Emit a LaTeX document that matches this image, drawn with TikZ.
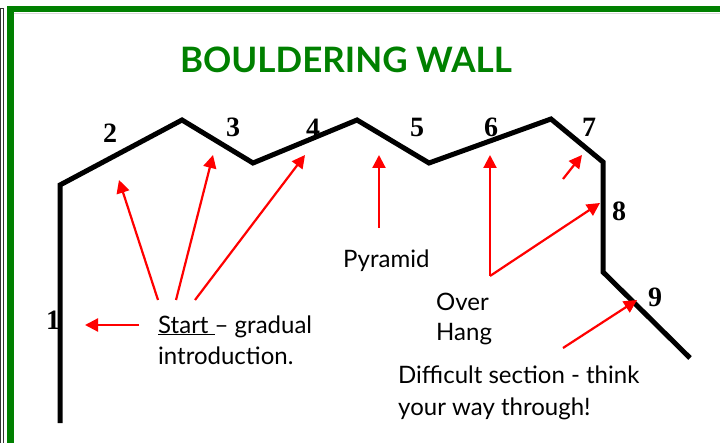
\documentclass[tikz,border=0pt]{standalone}
\usepackage{fontspec}
\setmainfont{Lato}
\newfontfamily\numfont{Liberation Serif}
\usetikzlibrary{arrows.meta}
\definecolor{frameGreen}{RGB}{0,128,0}
\definecolor{arrowRed}{RGB}{255,0,0}
\begin{document}
\begin{tikzpicture}[x=1pt,y=-1pt,
  wall/.style={line width=5pt, line join=miter, line cap=butt},
  redarrow/.style={draw=arrowRed, line width=2.2pt, -{Triangle[length=13pt,width=13pt]}},
  num/.style={font=\numfont\bfseries\fontsize{28}{28}\selectfont, inner sep=0pt},
  txt/.style={font=\fontsize{24}{32}\selectfont, inner sep=0pt, align=left, anchor=base west},
  titletxt/.style={font=\bfseries\fontsize{35}{35}\selectfont, text=frameGreen, inner sep=0pt, anchor=base}
]
\useasboundingbox (0,0) rectangle (720,443);
% frame
\fill[frameGreen] (7,6) rectangle (720,12.5);
\fill[frameGreen] (7,6) rectangle (13.5,443);
\draw[black!15, line width=1pt] (13.5,13.5) -- (720,13.5);
\draw[black!80, line width=0.8pt] (0,8) -- (3.5,8) -- (3.5,443);
\draw[black!80, line width=0.8pt] (0.4,8) -- (0.4,443);
% title
\node[titletxt] (title) at (346,73) {BOULDERING WALL};
% wall corners
\coordinate (w0) at (60,423);
\coordinate (w1) at (60,185);
\coordinate (w2) at (182,120);
\coordinate (w3) at (253,163);
\coordinate (w4) at (357,120);
\coordinate (w5) at (429,163);
\coordinate (w6) at (551,119);
\coordinate (w7) at (603,162);
\coordinate (w8) at (603,272);
\coordinate (w9) at (690,358);
% numbers
\node[num] (n1) at (53,320) {1};
\node[num] (n2) at (110,133) {2};
\node[num] (n3) at (233,127) {3};
\node[num] (n4) at (313,128) {4};
\node[num] (n5) at (417,127) {5};
\node[num] (n6) at (491,127) {6};
\node[num] (n7) at (589,127) {7};
\node[num] (n8) at (619,211) {8};
\node[num] (n9) at (655,297) {9};
% wall
\draw[wall] (w0) -- (w1) -- (w2) -- (w3) -- (w4) -- (w5) -- (w6) -- (w7) -- (w8) -- (w9);
% texts (base anchor = baseline of last line)
\node[txt] (start) at (158,365) {\underline{Start\ }– gradual\\introduction.};
\node[txt] (pyr) at (343,268) {Pyramid};
\node[txt] (over) at (436,341) {Over\\[-2pt]Hang};
\node[txt] (diff) at (398,415) {Difficult section - think\\your way through!};
% arrow coordinates
\coordinate (sa) at (158,300);
\coordinate (sb) at (176,300);
\coordinate (sc) at (195,300);
\coordinate (sd) at (139,325);
\coordinate (ta) at (119,180);
\coordinate (tb) at (213,155);
\coordinate (tc) at (305,155);
\coordinate (td) at (85,325);
\coordinate (pa) at (379,228);
\coordinate (pt) at (379,155);
\coordinate (oa) at (490,276);
\coordinate (ot1) at (490,155);
\coordinate (ot2) at (600,203);
\coordinate (ma) at (563,179);
\coordinate (mt) at (582,155);
\coordinate (da) at (563,348);
\coordinate (dt) at (637,300);
% arrows
\draw[redarrow] (sa) -- (ta);
\draw[redarrow] (sb) -- (tb);
\draw[redarrow] (sc) -- (tc);
\draw[redarrow] (sd) -- (td);
\draw[redarrow] (pa) -- (pt);
\draw[redarrow] (oa) -- (ot1);
\draw[redarrow] (oa) -- (ot2);
\draw[redarrow] (ma) -- (mt);
\draw[redarrow] (da) -- (dt);
\end{tikzpicture}
\end{document}
